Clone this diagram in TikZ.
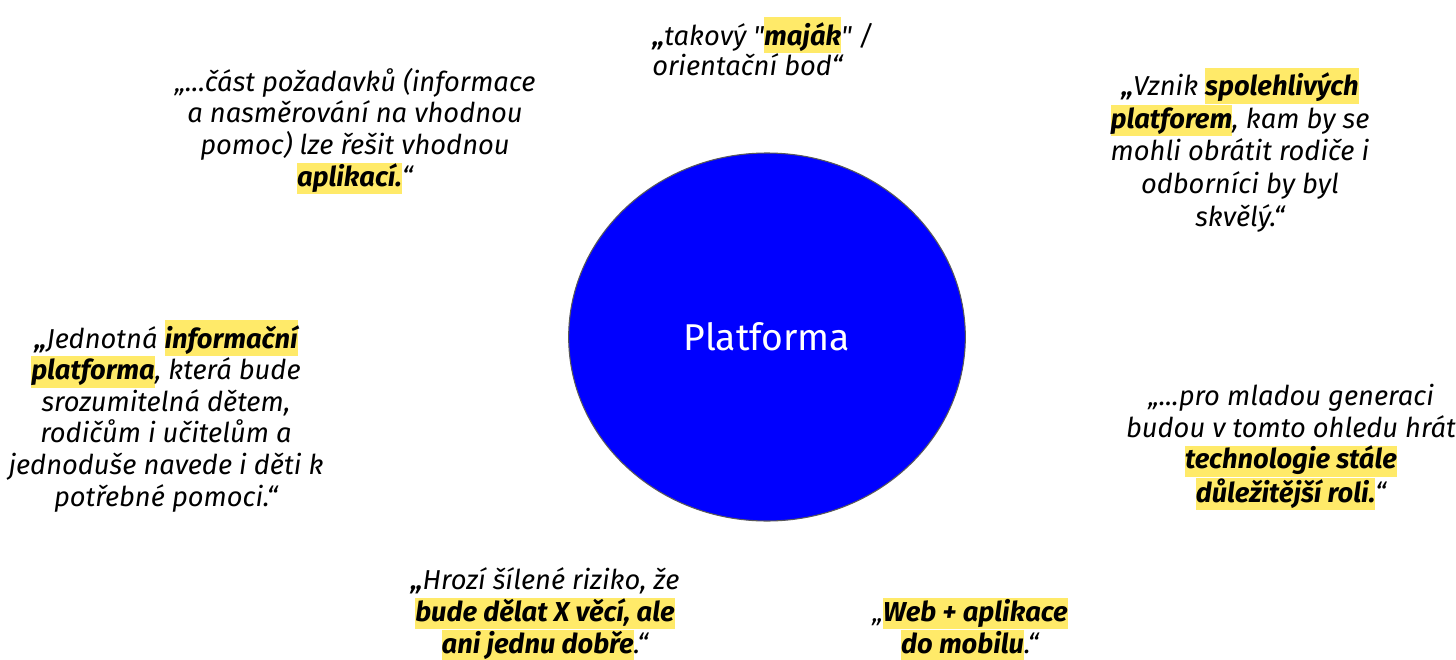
\documentclass[tikz,border=0pt]{standalone}
\usepackage{fontspec}
\setmainfont{Fira Sans}[Ligatures=TeXOff]
\usetikzlibrary{shapes.geometric}
\definecolor{hly}{RGB}{255,234,105}
\definecolor{circblue}{RGB}{0,0,255}
\newcommand\hl[1]{{\setlength{\fboxsep}{0pt}\colorbox{hly}{\rule[-6pt]{0pt}{23.5pt}\textbf{#1}}}}
\newcommand\hlF[1]{{\setlength{\fboxsep}{0pt}\colorbox{hly}{\rule[-6pt]{0pt}{27pt}\textbf{#1}}}}
\tikzset{
  quote/.style={font=\fontsize{20.5}{23.7}\selectfont\itshape, align=center, anchor=base, inner sep=0pt, text=black},
  circ/.style={ellipse, fill=circblue, draw=black!65, line width=0.8pt, text=white,
     minimum width=297.5pt, minimum height=276pt, font=\fontsize{28}{32}\selectfont}
}
\begin{document}
\begin{tikzpicture}[x=0.75pt,y=-0.75pt]
\useasboundingbox (0,0) rectangle (1456,660);
\node[circ] (c) at (767,337) {Platforma};
\node[quote, align=left, anchor=base west, font=\fontsize{20.5}{23}\selectfont\itshape] (q1) at (652,76)
 {\textbf{„}takový "\hlF{maják}" /\\orientační bod“};
\node[quote] (q2) at (355,186)
 {„...část požadavků (informace\\a nasměrování na vhodnou\\pomoc) lze řešit vhodnou\\\hl{aplikací.}“};
\node[quote, font=\fontsize{20.5}{24.4}\selectfont\itshape] (q3) at (1240,226)
 {\textbf{„}Vznik \hlF{spolehlivých}\\\hl{platforem}, kam by se\\mohli obrátit rodiče i\\odborníci by byl\\skvělý.“};
\node[quote] (q4) at (166,506)
 {\textbf{„}Jednotná \hlF{informační}\\\hl{platforma}, která bude\\srozumitelná dětem,\\rodičům i učitelům a\\jednoduše navede i děti k\\potřebné pomoci.“};
\node[quote] (q5) at (1291,502)
 {„...pro mladou generaci\\budou v tomto ohledu hrát\\\hl{technologie stále}\\\hl{důležitější roli.}“};
\node[quote] (q6) at (545,653)
 {\textbf{„}Hrozí šílené riziko, že\\\hl{bude dělat X věcí, ale}\\\hl{ani jednu dobře}.“};
\node[quote] (q7) at (970,653)
 {„\hl{Web + aplikace}\\\hl{do mobilu}.“};
\end{tikzpicture}
\end{document}
